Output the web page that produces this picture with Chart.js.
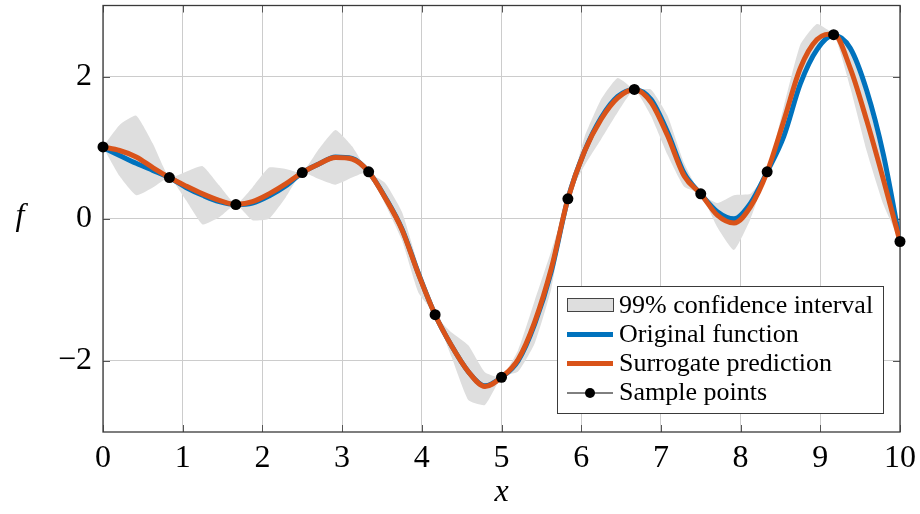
<!DOCTYPE html>
<html>
<head>
<meta charset="utf-8">
<script src="https://cdn.jsdelivr.net/npm/chart.js@4.4.1/dist/chart.umd.min.js"></script>
<style>
  html, body { margin: 0; padding: 0; background: #fff; }
  #wrap { width: 920px; height: 514px; }
</style>
</head>
<body>
<div id="wrap"><canvas id="chart" width="920" height="514"></canvas></div>
<script>
// ---- data ----
const xGrid = [0, 0.208, 0.417, 0.625, 0.833, 1.042, 1.25, 1.458, 1.667, 1.875, 2.083, 2.292, 2.5,
  2.708, 2.917, 3.125, 3.333, 3.542, 3.75, 3.958, 4.167, 4.375, 4.583, 4.792, 5,
  5.208, 5.417, 5.625, 5.833, 6.042, 6.25, 6.458, 6.667, 6.875, 7.083, 7.292, 7.5,
  7.708, 7.917, 8.125, 8.333, 8.542, 8.75, 8.958, 9.167, 9.375, 9.583, 9.792, 10];

const original = [1.00, 0.89, 0.78, 0.68, 0.58, 0.44, 0.33, 0.24, 0.20, 0.22, 0.32, 0.46, 0.65,
  0.77, 0.87, 0.85, 0.66, 0.30, -0.14, -0.77, -1.35, -1.79, -2.15, -2.35, -2.23,
  -2.00, -1.48, -0.74, 0.28, 0.95, 1.42, 1.72, 1.82, 1.68, 1.22, 0.64, 0.35,
  0.10, 0.00, 0.22, 0.66, 1.16, 1.90, 2.38, 2.58, 2.40, 1.80, 0.90, -0.32];

const surrogate = [1.01, 0.96, 0.87, 0.72, 0.58, 0.46, 0.35, 0.26, 0.20, 0.24, 0.35, 0.49, 0.65,
  0.77, 0.86, 0.84, 0.66, 0.29, -0.15, -0.78, -1.35, -1.79, -2.15, -2.36, -2.23,
  -1.98, -1.45, -0.70, 0.28, 0.95, 1.40, 1.70, 1.82, 1.64, 1.17, 0.60, 0.35,
  0.05, -0.06, 0.17, 0.66, 1.38, 2.12, 2.52, 2.60, 2.12, 1.38, 0.55, -0.32];

const ciUpper = [1.01, 1.32, 1.45, 1.06, 0.58, 0.66, 0.74, 0.47, 0.20, 0.44, 0.72, 0.70, 0.65,
  0.98, 1.25, 1.02, 0.66, 0.50, 0.10, -0.66, -1.35, -1.60, -1.78, -2.16, -2.23,
  -1.85, -1.15, -0.45, 0.28, 1.15, 1.68, 1.98, 1.82, 1.82, 1.45, 0.78, 0.35,
  0.22, 0.33, 0.35, 0.66, 1.58, 2.45, 2.74, 2.60, 2.40, 1.70, 0.80, -0.32];

const ciLower = [1.01, 0.60, 0.33, 0.44, 0.58, 0.26, -0.08, 0.02, 0.20, -0.02, 0.00, 0.30, 0.65,
  0.56, 0.48, 0.58, 0.66, 0.20, -0.30, -1.04, -1.35, -1.95, -2.55, -2.62, -2.23,
  -2.15, -1.75, -0.98, 0.28, 0.75, 1.12, 1.50, 1.82, 1.45, 0.90, 0.45, 0.35,
  -0.12, -0.44, 0.00, 0.66, 1.15, 1.85, 2.35, 2.60, 1.85, 0.95, 0.20, -0.32];

const sampleX = [0, 0.833, 1.667, 2.5, 3.333, 4.167, 5, 5.833, 6.667, 7.5, 8.333, 9.167, 10];
const sampleY = [1.01, 0.58, 0.20, 0.65, 0.66, -1.35, -2.23, 0.28, 1.82, 0.35, 0.66, 2.59, -0.32];

const xTicks = [0, 1, 2, 3, 4, 5, 6, 7, 8, 9, 10];
const yTicks = [-2, 0, 2];

const legendLabels = ['99% confidence interval', 'Original function', 'Surrogate prediction', 'Sample points'];

// ---- styles ----
const BLUE = '#0072bd';
const ORANGE = '#d95319';
const BAND = '#dedede';
const FRAME = '#3a3a3a';
const SERIF = '"Liberation Serif", "DejaVu Serif", serif';

const pairs = (xs, ys) => xs.map((x, i) => ({ x: x, y: ys[i] }));

// cadre, petites graduations intérieures, légende et label f
const framePlugin = {
    id: 'framePlugin',
    beforeDatasetsDraw(chart) {
        const { ctx, chartArea: a, scales } = chart;
        ctx.save();
        ctx.strokeStyle = '#555';
        ctx.lineWidth = 1;
        const tl = 7;
        xTicks.forEach(v => {
            const px = Math.round(scales.x.getPixelForValue(v)) + 0.5;
            ctx.beginPath();
            ctx.moveTo(px, a.bottom); ctx.lineTo(px, a.bottom - tl);
            ctx.moveTo(px, a.top); ctx.lineTo(px, a.top + tl);
            ctx.stroke();
        });
        yTicks.forEach(v => {
            const py = Math.round(scales.y.getPixelForValue(v)) + 0.5;
            ctx.beginPath();
            ctx.moveTo(a.left, py); ctx.lineTo(a.left + tl, py);
            ctx.moveTo(a.right, py); ctx.lineTo(a.right - tl, py);
            ctx.stroke();
        });
        ctx.strokeStyle = FRAME;
        ctx.lineWidth = 1.3;
        ctx.strokeRect(a.left, a.top, a.right - a.left, a.bottom - a.top);
        ctx.restore();
    },
    afterDraw(chart) {
        const { ctx, chartArea: a, scales } = chart;
        ctx.save();

        // y label, horizontal
        ctx.font = 'italic 32px ' + SERIF;
        ctx.fillStyle = '#000';
        ctx.textAlign = 'center';
        ctx.textBaseline = 'middle';
        ctx.fillText('f', 20, scales.y.getPixelForValue(0) - 2);

        // legend
        const w = 326, h = 127;
        const lx = a.right - 17 - w, ly = a.bottom - 19 - h;
        ctx.fillStyle = '#fff';
        ctx.fillRect(lx, ly, w, h);
        ctx.strokeStyle = FRAME;
        ctx.lineWidth = 1;
        ctx.strokeRect(lx + 0.5, ly + 0.5, w, h);

        const rows = [19, 48.5, 77.5, 106.5];
        const sx0 = lx + 10, sx1 = lx + 56;
        ctx.font = '26px ' + SERIF;
        ctx.textAlign = 'left';
        ctx.textBaseline = 'middle';
        legendLabels.forEach((label, i) => {
            const cy = ly + rows[i];
            if (i === 0) {
                ctx.fillStyle = BAND;
                ctx.fillRect(sx0, cy - 7, sx1 - sx0, 14);
                ctx.strokeStyle = '#444';
                ctx.lineWidth = 1;
                ctx.strokeRect(sx0 + 0.5, cy - 6.5, sx1 - sx0, 13);
            } else if (i === 3) {
                ctx.strokeStyle = '#000';
                ctx.lineWidth = 1;
                ctx.beginPath();
                ctx.moveTo(sx0, cy + 0.5); ctx.lineTo(sx1, cy + 0.5);
                ctx.stroke();
                ctx.fillStyle = '#000';
                ctx.beginPath();
                ctx.arc((sx0 + sx1) / 2, cy + 0.5, 5, 0, Math.PI * 2);
                ctx.fill();
            } else {
                ctx.strokeStyle = i === 1 ? BLUE : ORANGE;
                ctx.lineWidth = 5;
                ctx.beginPath();
                ctx.moveTo(sx0, cy); ctx.lineTo(sx1, cy);
                ctx.stroke();
            }
            ctx.fillStyle = '#000';
            ctx.fillText(label, lx + 62, cy + 1);
        });
        ctx.restore();
    }
};

new Chart(document.getElementById('chart'), {
    type: 'line',
    data: {
        datasets: [
            {
                label: 'ci lower',
                data: pairs(xGrid, ciLower),
                borderColor: 'transparent',
                borderWidth: 0,
                pointRadius: 0,
                fill: false,
                tension: 0.15,
                order: 5
            },
            {
                label: legendLabels[0],
                data: pairs(xGrid, ciUpper),
                borderColor: 'transparent',
                borderWidth: 0,
                backgroundColor: BAND,
                pointRadius: 0,
                fill: { target: 0 },
                tension: 0.15,
                order: 4
            },
            {
                label: legendLabels[1],
                data: pairs(xGrid, original),
                borderColor: BLUE,
                borderWidth: 5,
                pointRadius: 0,
                fill: false,
                cubicInterpolationMode: 'monotone',
                order: 3
            },
            {
                label: legendLabels[2],
                data: pairs(xGrid, surrogate),
                borderColor: ORANGE,
                borderWidth: 5,
                pointRadius: 0,
                fill: false,
                cubicInterpolationMode: 'monotone',
                order: 2
            },
            {
                label: legendLabels[3],
                data: pairs(sampleX, sampleY),
                showLine: false,
                pointRadius: 5.5,
                pointBackgroundColor: '#000',
                pointBorderWidth: 0,
                clip: false,
                order: 1
            }
        ]
    },
    options: {
        responsive: false,
        animation: false,
        devicePixelRatio: 1,
        layout: { padding: { top: 4, right: 20, bottom: 0, left: 0 } },
        plugins: {
            legend: { display: false },
            tooltip: { enabled: false }
        },
        scales: {
            x: {
                type: 'linear',
                min: 0,
                max: 10,
                afterBuildTicks: s => { s.ticks = xTicks.map(v => ({ value: v })); },
                afterFit: s => { s.height = 82; s.paddingLeft = 0; s.paddingRight = 0; },
                border: { display: false },
                grid: { color: '#cccccc', lineWidth: 1, drawTicks: false },
                ticks: {
                    padding: 7,
                    color: '#000',
                    font: { family: SERIF, size: 32 },
                    maxRotation: 0
                },
                title: {
                    display: true,
                    text: 'x',
                    color: '#000',
                    font: { family: SERIF, size: 32, style: 'italic' },
                    padding: { top: 0, bottom: 2 }
                }
            },
            y: {
                type: 'linear',
                min: -3,
                max: 3,
                afterBuildTicks: s => { s.ticks = yTicks.map(v => ({ value: v })); },
                afterFit: s => { s.width = 103; s.paddingTop = 0; s.paddingBottom = 0; },
                border: { display: false },
                grid: { color: '#cccccc', lineWidth: 1, drawTicks: false },
                ticks: {
                    padding: 11,
                    color: '#000',
                    font: { family: SERIF, size: 32 },
                    callback: v => (v < 0 ? '\u2212' + Math.abs(v) : String(v))
                }
            }
        }
    },
    plugins: [framePlugin]
});
</script>
</body>
</html>
